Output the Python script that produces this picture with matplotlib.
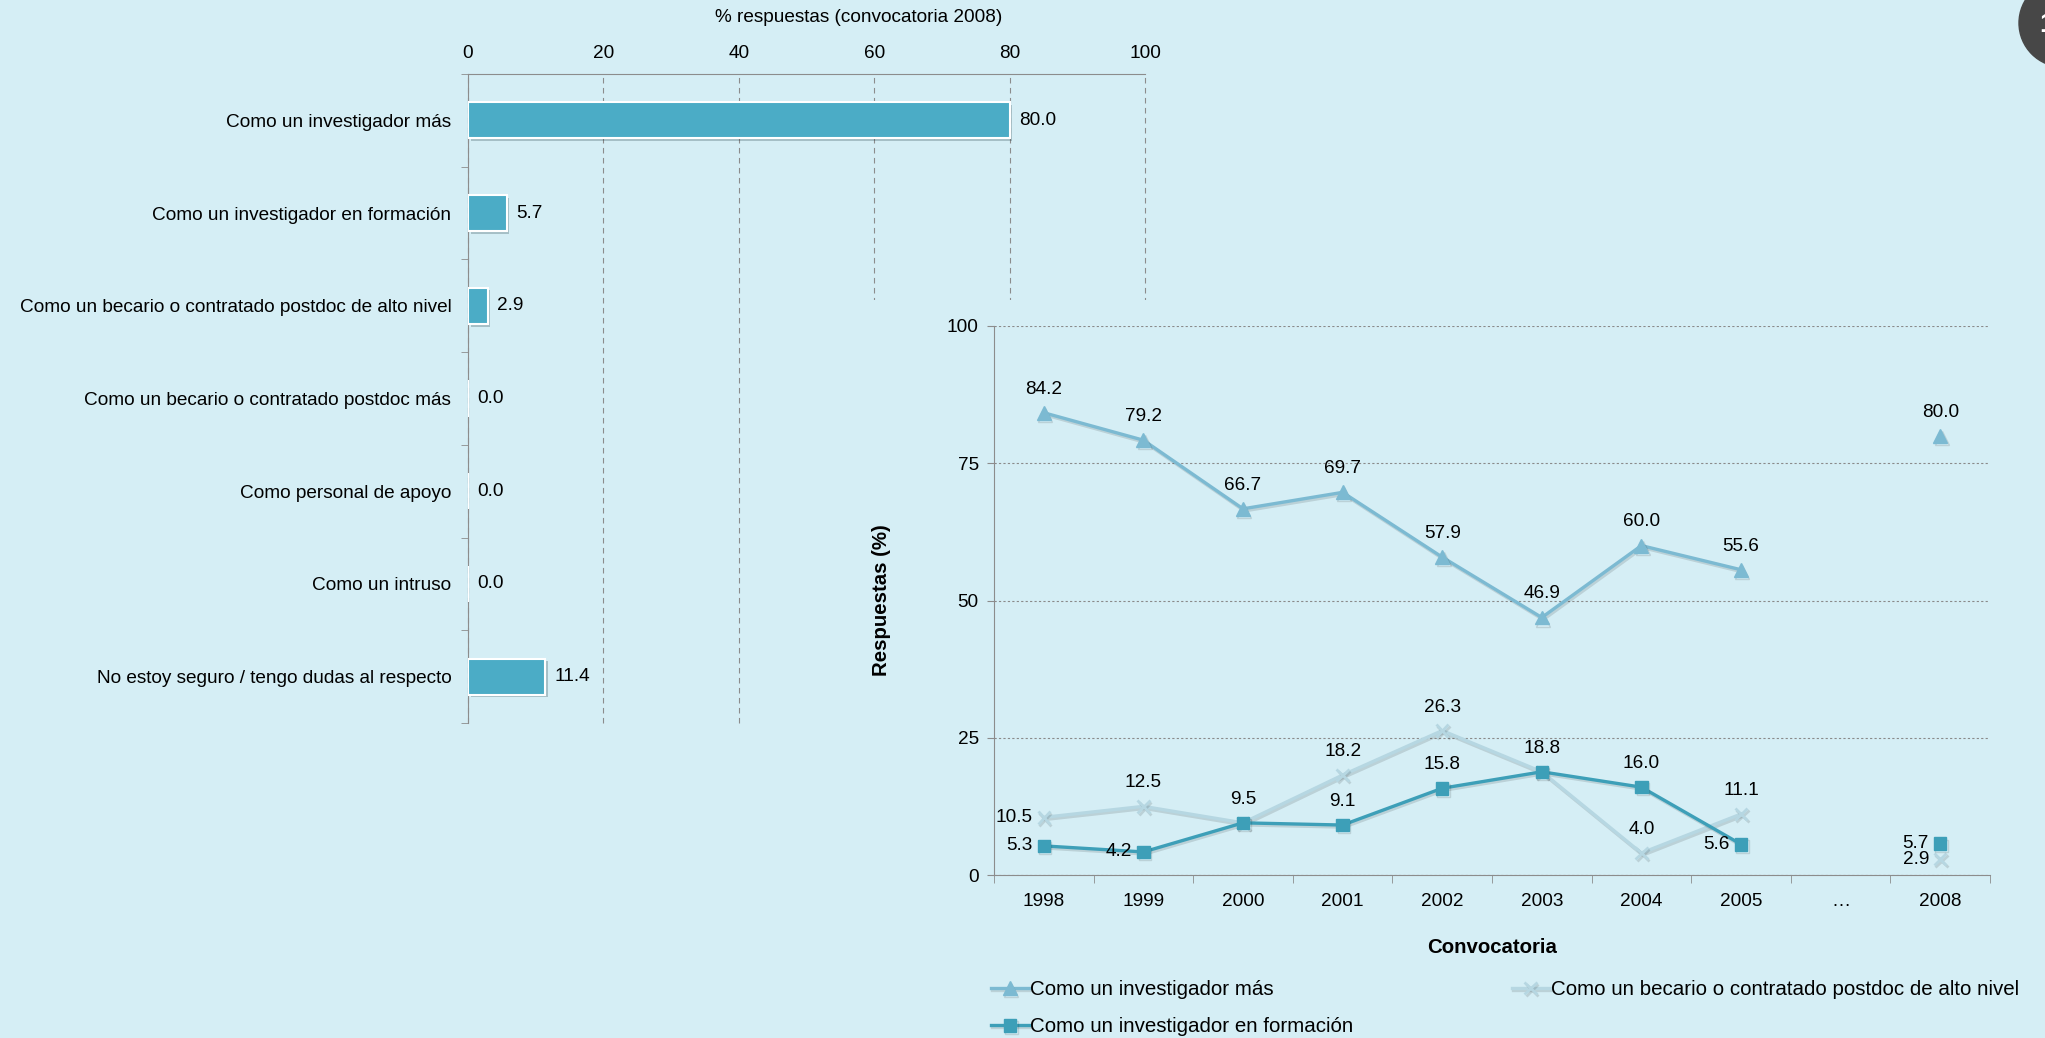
import numpy as np
import matplotlib
matplotlib.use("Agg")
import matplotlib.pyplot as plt
import matplotlib.patheffects as pe
from matplotlib.patches import Ellipse

plt.rcParams["font.family"] = ["Liberation Sans", "DejaVu Sans"]

BG = "#d5eef5"
BAR = "#4bacc6"
C_MAS = "#7cbad2"
C_FORM = "#3d9fb8"
C_BEC = "#b6d7e2"
GRAY = "#8c8c8c"
FS = 13.7

# --- data -------------------------------------------------------------------
CATEGORIES = [
    "Como un investigador más",
    "Como un investigador en formación",
    "Como un becario o contratado postdoc de alto nivel",
    "Como un becario o contratado postdoc más",
    "Como personal de apoyo",
    "Como un intruso",
    "No estoy seguro / tengo dudas al respecto",
]
PCT_2008 = [80.0, 5.7, 2.9, 0.0, 0.0, 0.0, 11.4]

YEARS = ["1998", "1999", "2000", "2001", "2002", "2003", "2004", "2005", "…", "2008"]
MAS = [84.2, 79.2, 66.7, 69.7, 57.9, 46.9, 60.0, 55.6, np.nan, 80.0]
FORMACION = [5.3, 4.2, 9.5, 9.1, 15.8, 18.8, 16.0, 5.6, np.nan, 5.7]
BECARIO = [10.5, 12.5, 9.5, 18.2, 26.3, 18.8, 4.0, 11.1, np.nan, 2.9]

# where each point label sits ("u" above, "l" left)
MAS_POS = ["u"] * 10
FORM_POS = ["l", "l", "u", "u", "u", "u", "u", "l", "", "l"]
BEC_POS = ["l", "u", "u", "u", "u", "u", "u", "u", "", "l"]

W, H = 2045, 1038
fig = plt.figure(figsize=(W / 100, H / 100), dpi=100)
fig.patch.set_facecolor(BG)


def box(l, t, r, b):
    return [l / W, 1 - b / H, (r - l) / W, (b - t) / H]


# --- bar chart (2008) -------------------------------------------------------
axb = fig.add_axes(box(468, 74, 1145, 723), zorder=0)
axb.set_facecolor(BG)
y = np.arange(len(CATEGORIES))
bars = axb.barh(y, PCT_2008, height=0.39, color=BAR, edgecolor="white", linewidth=1.5, zorder=3)
for b in bars:
    b.set_path_effects([pe.SimplePatchShadow(offset=(2, -2), alpha=0.25), pe.Normal()])
for yi, v in zip(y, PCT_2008):
    axb.annotate(f"{v:.1f}", (v, yi), xytext=(7, 0), textcoords="offset points",
                 va="center", ha="left", fontsize=FS)
axb.set_xlim(0, 100)
axb.set_ylim(len(CATEGORIES) - 0.5, -0.5)
axb.xaxis.tick_top()
axb.set_xticks(range(0, 101, 20))
axb.tick_params(axis="x", length=0, pad=9, labelsize=FS)
axb.set_yticks(y)
axb.set_yticklabels(CATEGORIES, fontsize=FS)
axb.tick_params(axis="y", length=0, pad=12)
axb.set_yticks(np.arange(-0.5, len(CATEGORIES)), minor=True)
axb.tick_params(axis="y", which="minor", length=5, color=GRAY)
axb.grid(axis="x", color=GRAY, linestyle=(0, (5, 4)), linewidth=0.8)
for gl in axb.get_xgridlines():
    gl.set_clip_on(False)
axb.set_axisbelow(True)
for s in ["right", "bottom"]:
    axb.spines[s].set_visible(False)
for s in ["left", "top"]:
    axb.spines[s].set_color(GRAY)
fig.text(859 / W, 1 - 18 / H, "% respuestas (convocatoria 2008)", ha="center", va="center", fontsize=FS)

# cover panel behind the line chart
cover = fig.add_axes(box(835, 300, W, H), zorder=1)
cover.set_facecolor(BG)
cover.set_xticks([]); cover.set_yticks([])
for s in cover.spines.values():
    s.set_visible(False)

# --- line chart ---------------------------------------------------------------
axl = fig.add_axes(box(994, 326, 1990, 875), zorder=2)
axl.set_facecolor("none")
x = np.arange(len(YEARS))
shadow = [pe.SimpleLineShadow(offset=(1, -1.5), alpha=0.12), pe.Normal()]
series = [
    ("Como un investigador más", MAS, C_MAS, "^", 10, MAS_POS),
    ("Como un becario o contratado postdoc de alto nivel", BECARIO, C_BEC, "x", 9, BEC_POS),
    ("Como un investigador en formación", FORMACION, C_FORM, "s", 9, FORM_POS),
]
handles = {}
for name, vals, col, mk, ms, pos in series:
    ln, = axl.plot(x, vals, color=col, marker=mk, markersize=ms, linewidth=2.4,
                   markeredgewidth=2 if mk == "x" else 1, path_effects=shadow, label=name)
    handles[name] = ln
for name, vals, col, mk, ms, pos in series:
    for xi, v, p in zip(x, vals, pos):
        if np.isnan(v) or not p:
            continue
        if vals is BECARIO and v == FORMACION[xi]:
            continue
        if p == "u":
            axl.annotate(f"{v:.1f}", (xi, v), xytext=(0, 17), textcoords="offset points",
                         ha="center", va="center", fontsize=FS)
        else:
            axl.annotate(f"{v:.1f}", (xi, v), xytext=(-8, 0), textcoords="offset points",
                         ha="right", va="center", fontsize=FS)

axl.set_xlim(-0.5, len(YEARS) - 0.5)
axl.set_ylim(0, 100)
axl.set_xticks(x)
axl.set_xticklabels(YEARS, fontsize=FS)
axl.tick_params(axis="x", length=0, pad=13)
axl.set_xticks(np.arange(-0.5, len(YEARS)), minor=True)
axl.tick_params(axis="x", which="minor", length=6, color=GRAY)
axl.set_yticks([0, 25, 50, 75, 100])
axl.tick_params(axis="y", length=5, color=GRAY, labelsize=FS, pad=6)
axl.grid(axis="y", color="#8a8a8a", linestyle=(0, (2, 2)), linewidth=0.8)
axl.set_axisbelow(True)
for s in ["right", "top"]:
    axl.spines[s].set_visible(False)
for s in ["left", "bottom"]:
    axl.spines[s].set_color(GRAY)
axl.set_ylabel("Respuestas (%)", fontsize=FS + 1, fontweight="bold", labelpad=40)
axl.set_xlabel("Convocatoria", fontsize=FS + 1, fontweight="bold", labelpad=20)

order = ["Como un investigador más", "Como un investigador en formación",
         "Como un becario o contratado postdoc de alto nivel"]
fig.legend([handles[k] for k in order], order, loc="upper left",
           bbox_to_anchor=(991 / W, 1 - 980 / H), ncol=2, frameon=False,
           borderaxespad=0, borderpad=0, fontsize=14.8, handlelength=1.85,
           handletextpad=0.05, columnspacing=7.7, labelspacing=0.9)

# slide page marker
fig.add_artist(Ellipse((2063 / W, 1 - 23 / H), 88 / W, 88 / H, transform=fig.transFigure,
                       color="#474747", zorder=5))
fig.text(2039 / W, 1 - 25 / H, "1", color="white", fontsize=20, fontweight="bold",
         ha="left", va="center", zorder=6)

fig.savefig("out.png", dpi=100, facecolor=BG)
